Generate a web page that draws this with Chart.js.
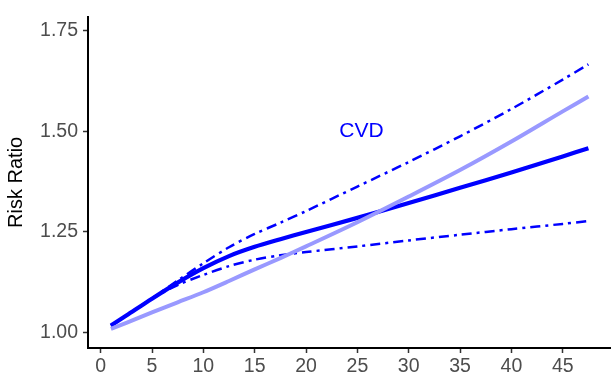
<!DOCTYPE html>
<html>
<head>
<meta charset="utf-8">
<script src="https://cdn.jsdelivr.net/npm/chart.js@4.4.0/dist/chart.umd.min.js"></script>
<style>
  html, body { margin: 0; padding: 0; background: #fff; }
  #wrap { width: 611px; height: 379px; }
</style>
</head>
<body>
<div id="wrap"><canvas id="rr"></canvas></div>
<script>
// exposure values (x) and risk ratio curves
const xs = [1, 2.5, 5, 7.5, 10, 12.5, 15, 17.5, 20, 25, 30, 35, 40, 45, 47.5];
const rrCVD   = [1.017, 1.042, 1.084, 1.124, 1.160, 1.190, 1.213, 1.232, 1.250, 1.285, 1.322, 1.360, 1.398, 1.438, 1.458];
const rrUpper = [1.017, 1.042, 1.085, 1.129, 1.172, 1.212, 1.245, 1.273, 1.302, 1.363, 1.424, 1.488, 1.556, 1.629, 1.667];
const rrLower = [1.017, 1.042, 1.084, 1.118, 1.143, 1.165, 1.181, 1.192, 1.200, 1.214, 1.229, 1.243, 1.257, 1.270, 1.277];
const rrRef   = [1.009, 1.024, 1.050, 1.075, 1.100, 1.128, 1.157, 1.185, 1.214, 1.274, 1.338, 1.404, 1.475, 1.550, 1.587];

const xTicks = [0, 5, 10, 15, 20, 25, 30, 35, 40, 45];
const yTicks = [1.00, 1.25, 1.50, 1.75];
const label = { text: 'CVD', x: 25.4, y: 1.50 };

function pts(ys) {
  return xs.map((x, i) => ({ x: x, y: ys[i] }));
}

// draws the "CVD" note at a data position
const notePlugin = {
  id: 'note',
  afterDatasetsDraw(chart) {
    const ctx = chart.ctx;
    const px = chart.scales.x.getPixelForValue(label.x);
    const py = chart.scales.y.getPixelForValue(label.y);
    ctx.save();
    ctx.fillStyle = '#0000FF';
    ctx.font = '21px "Liberation Sans", Arial, sans-serif';
    ctx.textAlign = 'center';
    ctx.textBaseline = 'middle';
    ctx.fillText(label.text, px, py);
    ctx.restore();
  }
};

const font = { family: '"Liberation Sans", Arial, sans-serif' };

new Chart(document.getElementById('rr'), {
  type: 'scatter',
  data: {
    datasets: [
      { data: pts(rrRef), borderColor: '#9999FF', borderWidth: 4 },
      { data: pts(rrUpper), borderColor: '#0000FF', borderWidth: 2.5, borderDash: [10, 5, 3, 5] },
      { data: pts(rrLower), borderColor: '#0000FF', borderWidth: 2.5, borderDash: [10, 5, 3, 5] },
      { data: pts(rrCVD), borderColor: '#0000FF', borderWidth: 4.2 }
    ].map(d => Object.assign(d, {
      showLine: true,
      pointRadius: 0,
      tension: 0.3,
      borderCapStyle: 'butt',
      fill: false
    }))
  },
  options: {
    responsive: true,
    maintainAspectRatio: false,
    animation: false,
    layout: { padding: { top: 7, right: 0, left: 0, bottom: 0 } },
    plugins: {
      legend: { display: false },
      tooltip: { enabled: false }
    },
    scales: {
      x: {
        type: 'linear',
        min: -1.234,
        max: 49.70,
        afterBuildTicks: s => { s.ticks = xTicks.map(v => ({ value: v })); },
        afterFit: s => { s.height = 31; },
        grid: { drawOnChartArea: false, drawTicks: true, tickLength: 5, tickColor: '#333333', tickWidth: 1.5 },
        border: { display: true, color: '#000000', width: 2 },
        ticks: { color: '#4D4D4D', font: Object.assign({ size: 19.5 }, font), padding: 2, maxRotation: 0 }
      },
      y: {
        type: 'linear',
        min: 0.9613,
        max: 1.7855,
        afterBuildTicks: s => { s.ticks = yTicks.map(v => ({ value: v })); },
        afterFit: s => { s.width = 88; },
        grid: { drawOnChartArea: false, drawTicks: true, tickLength: 5, tickColor: '#333333', tickWidth: 1.5 },
        border: { display: true, color: '#000000', width: 2 },
        ticks: {
          color: '#4D4D4D',
          font: Object.assign({ size: 19.5 }, font),
          padding: 5,
          callback: v => v.toFixed(2)
        },
        title: {
          display: true,
          text: 'Risk Ratio',
          color: '#000000',
          font: Object.assign({ size: 20 }, font),
          padding: { top: 4, bottom: 0 }
        }
      }
    }
  },
  plugins: [notePlugin]
});
</script>
</body>
</html>
